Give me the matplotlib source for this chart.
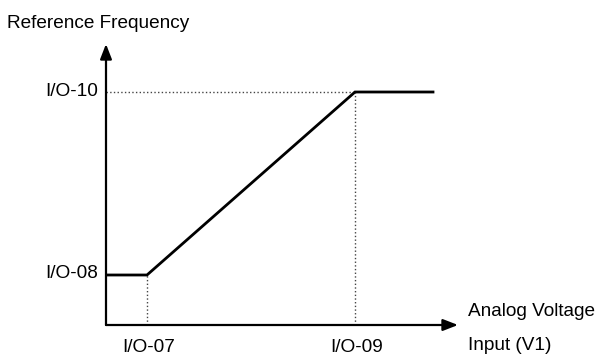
import numpy as np
import matplotlib
matplotlib.use('Agg')
import matplotlib.pyplot as plt

plt.rcParams['font.family'] = ['Liberation Sans', 'DejaVu Sans']

# curve break points (x: analog input, y: reference frequency)
curve_x = [0, 41, 249, 327]
curve_y = [50, 50, 233, 233]
x_ticks = [41, 249]
x_tick_labels = ['I/O-07', 'I/O-09']
y_ticks = [50, 233]
y_tick_labels = ['I/O-08', 'I/O-10']
x_title = ['Analog Voltage', 'Input (V1)']
y_title = 'Reference Frequency'

W, H = 597, 356
fig = plt.figure(figsize=(W / 100, H / 100), dpi=100)
x_max, y_max = 352, 281
ax = fig.add_axes([106 / W, 31 / H, x_max / W, y_max / H])
ax.set_xlim(0, x_max)
ax.set_ylim(0, y_max)
ax.axis('off')

fs = 13.7
arrow = dict(arrowstyle='-|>,head_length=0.9,head_width=0.35', color='black', lw=1.6,
             shrinkA=0, shrinkB=0)
ax.annotate('', xy=(x_max, 0), xytext=(0, 0), arrowprops=arrow, annotation_clip=False)
ax.annotate('', xy=(0, y_max), xytext=(0, 0), arrowprops=arrow, annotation_clip=False)

# dotted guide lines
ax.plot([x_ticks[0], x_ticks[0]], [0, y_ticks[0]], ls=':', color='#444444', lw=1)
ax.plot([x_ticks[1], x_ticks[1]], [0, y_ticks[1]], ls=':', color='#444444', lw=1)
ax.plot([0, x_ticks[1]], [y_ticks[1], y_ticks[1]], ls=':', color='#444444', lw=1)

ax.plot(curve_x, curve_y, color='black', lw=2, solid_joinstyle='miter')

for x, lab in zip(x_ticks, x_tick_labels):
    ax.text(x + 2, -22, lab, ha='center', va='center', fontsize=fs, clip_on=False)
for y, lab in zip(y_ticks, y_tick_labels):
    ax.text(-8, y + 1, lab, ha='right', va='center', fontsize=fs, clip_on=False)

ax.text(-99, 302, y_title, ha='left', va='center', fontsize=fs, clip_on=False)
ax.text(362, 13, x_title[0], ha='left', va='center', fontsize=fs, clip_on=False)
ax.text(362, -20, x_title[1], ha='left', va='center', fontsize=fs, clip_on=False)

fig.savefig('out.png', dpi=100)
